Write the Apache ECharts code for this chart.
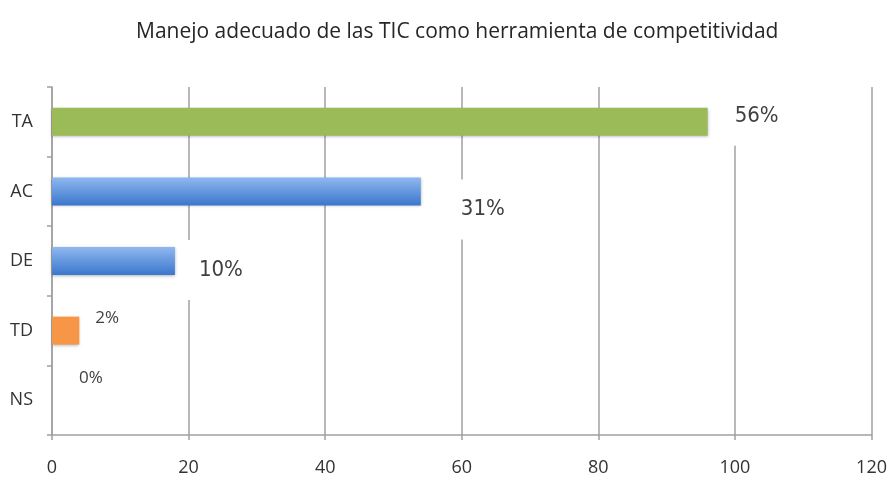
<!DOCTYPE html>
<html>
<head>
<meta charset="utf-8">
<script src="https://cdn.jsdelivr.net/npm/echarts@6/dist/echarts.min.js"></script>
<style>
  html, body { margin: 0; padding: 0; background: #fff; }
  #chart { width: 890px; height: 477px; }
</style>
</head>
<body>
<div id="chart"></div>
<script>
// Chart data
var categories = ['TA', 'AC', 'DE', 'TD', 'NS'];
var values = [96, 54, 18, 4, 0];
var percentLabels = ['56%', '31%', '10%', '2%', '0%'];
var xTicks = [0, 20, 40, 60, 80, 100, 120];

// Bar colours
var green = '#9bbb59';
var orange = '#f79646';
var blueGrad = new echarts.graphic.LinearGradient(0, 0, 0, 1, [
  { offset: 0, color: '#8fb8f0' },
  { offset: 1, color: '#3b77cc' }
]);
var barColors = [green, blueGrad, blueGrad, orange, orange];

// Label look per bar (big boxed labels for first three)
var bigLabel = {
  fontFamily: '"DejaVu Sans Condensed", "Liberation Sans Narrow", sans-serif',
  fontSize: 22,
  color: '#404040',
  backgroundColor: '#fff',
  padding: [22, 8, 16, 14]
};
var smallLabel = {
  fontFamily: '"Open Sans", sans-serif',
  fontSize: 17,
  color: '#404040'
};
var labelOffsets = [[13, -6], [26, 18], [10, 9], [16, -12], [27, -22]];

var chart = echarts.init(document.getElementById('chart'));

var seriesData = values.map(function(v, i) {
  var base = i < 3 ? bigLabel : smallLabel;
  return {
    value: v,
    itemStyle: { color: barColors[i] },
    label: Object.assign({
      show: true,
      position: 'right',
      distance: 0,
      offset: labelOffsets[i],
      formatter: percentLabels[i]
    }, base)
  };
});

var option = {
  animation: false,
  title: {
    text: 'Manejo adecuado de las TIC como herramienta de competitividad',
    left: 131,
    top: 17,
    textStyle: {
      fontFamily: '"Open Sans", sans-serif',
      fontSize: 21,
      fontWeight: 'normal',
      color: '#262626'
    }
  },
  grid: { left: 52, right: 18, top: 87, bottom: 40 },
  xAxis: {
    type: 'value',
    min: xTicks[0],
    max: xTicks[xTicks.length - 1],
    interval: 20,
    axisLine: { show: true, lineStyle: { color: '#a0a0a0', width: 1.5 } },
    axisTick: { show: true, length: 5, lineStyle: { color: '#a0a0a0', width: 1.5 } },
    splitLine: { show: true, lineStyle: { color: '#a0a0a0', width: 1.5 } },
    axisLabel: {
      margin: 24,
      fontFamily: '"Open Sans", sans-serif',
      fontSize: 18,
      color: '#333'
    }
  },
  yAxis: {
    type: 'category',
    data: categories,
    inverse: true,
    axisLine: { show: true, lineStyle: { color: '#a0a0a0', width: 1.5 } },
    axisTick: { show: true, length: 5, lineStyle: { color: '#a0a0a0', width: 1.5 } },
    axisLabel: {
      margin: 19,
      fontFamily: '"Open Sans", sans-serif',
      fontSize: 18,
      color: '#333'
    }
  },
  series: [
    {
      type: 'bar',
      data: seriesData,
      barWidth: 28,
      itemStyle: {
        shadowBlur: 3,
        shadowColor: 'rgba(0, 0, 0, 0.3)',
        shadowOffsetY: 1
      }
    }
  ]
};

chart.setOption(option);
</script>
</body>
</html>
